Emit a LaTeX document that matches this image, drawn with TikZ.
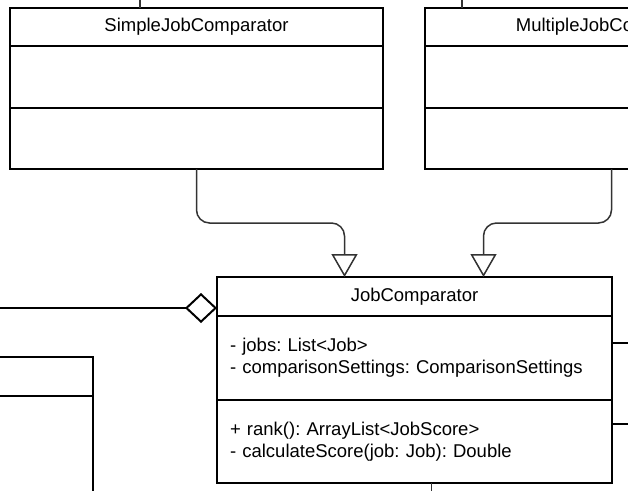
\documentclass[tikz,border=0pt]{standalone}
\usepackage{fontspec}
\setmainfont{Liberation Sans}
\usetikzlibrary{positioning, arrows.meta, calc}
\definecolor{linkgray}{HTML}{333333}
\frenchspacing

\begin{document}
\begin{tikzpicture}[x=1pt, y=-1pt, node distance=0pt,
	every node/.style={font=\fontsize{18.5}{22}\selectfont},
	part/.style={draw, line width=2pt, outer sep=0pt, inner sep=0pt, minimum width=373pt},
	body/.style={part, align=left, inner xsep=13pt, text width=369pt, minimum width=395pt},
	link/.style={draw=linkgray, line width=1.5pt},
	gen/.style={link, rounded corners=13pt, -{Triangle[open, length=23pt, width=26pt]}}]
	\useasboundingbox (0,0) rectangle (628,490);
	\clip (0,0) rectangle (628,490);
	% classes
	\node[part, minimum height=38pt, anchor=north west] (simple) at (10,8) {SimpleJobComparator};
	\node[part, minimum height=62pt, below=of simple] (simpleattr) {};
	\node[part, minimum height=61pt, below=of simpleattr] (simpleops) {};
	\node[part, minimum height=38pt, anchor=north west] (multi) at (425,8) {MultipleJobComparator};
	\node[part, minimum height=62pt, below=of multi] (multiattr) {};
	\node[part, minimum height=61pt, below=of multiattr] (multiops) {};
	\node[part, minimum width=395pt, minimum height=39pt, anchor=north west] (jc) at (217,277) {JobComparator};
	\node[body, minimum height=84pt, below=of jc] (jcattr) {- jobs: List<Job>\\- comparisonSettings: ComparisonSettings};
	\node[body, minimum height=83pt, below=of jcattr] (jcops) {+ rank(): ArrayList<JobScore>\\- calculateScore(job: Job): Double};
	\node[part, minimum width=380pt, minimum height=39pt, anchor=north east] (other) at (93,357) {};
	\node[part, minimum width=380pt, minimum height=150pt, below=of other] (otherattr) {};
	% connectors
	\coordinate (bend) at (0,223);
	\draw[gen] (simpleops.south) -- (simpleops.south |- bend) -| ([xshift=-70pt]jc.north);
	\draw[gen] (multiops.south) -- (multiops.south |- bend) -| ([xshift=69pt]jc.north);
	\coordinate (aggend) at (-5,308);
	\draw[line width=2pt, -{Diamond[open, length=32pt, width=30pt]}] (aggend) -- (aggend -| jc.west);
	\coordinate (right1) at (640,343);
	\coordinate (right2) at (640,424);
	\draw[line width=2pt] (right1 -| jcattr.east) -- (right1);
	\draw[line width=2pt] (right2 -| jcops.east) -- (right2);
	\draw[link] ([xshift=17pt]jcops.south) -- ++(0,15);
	\draw[link] ([xshift=130pt]simple.north west) -- ++(0,-15);
	\draw[link] ([xshift=37pt]multi.north west) -- ++(0,-15);
\end{tikzpicture}
\end{document}
